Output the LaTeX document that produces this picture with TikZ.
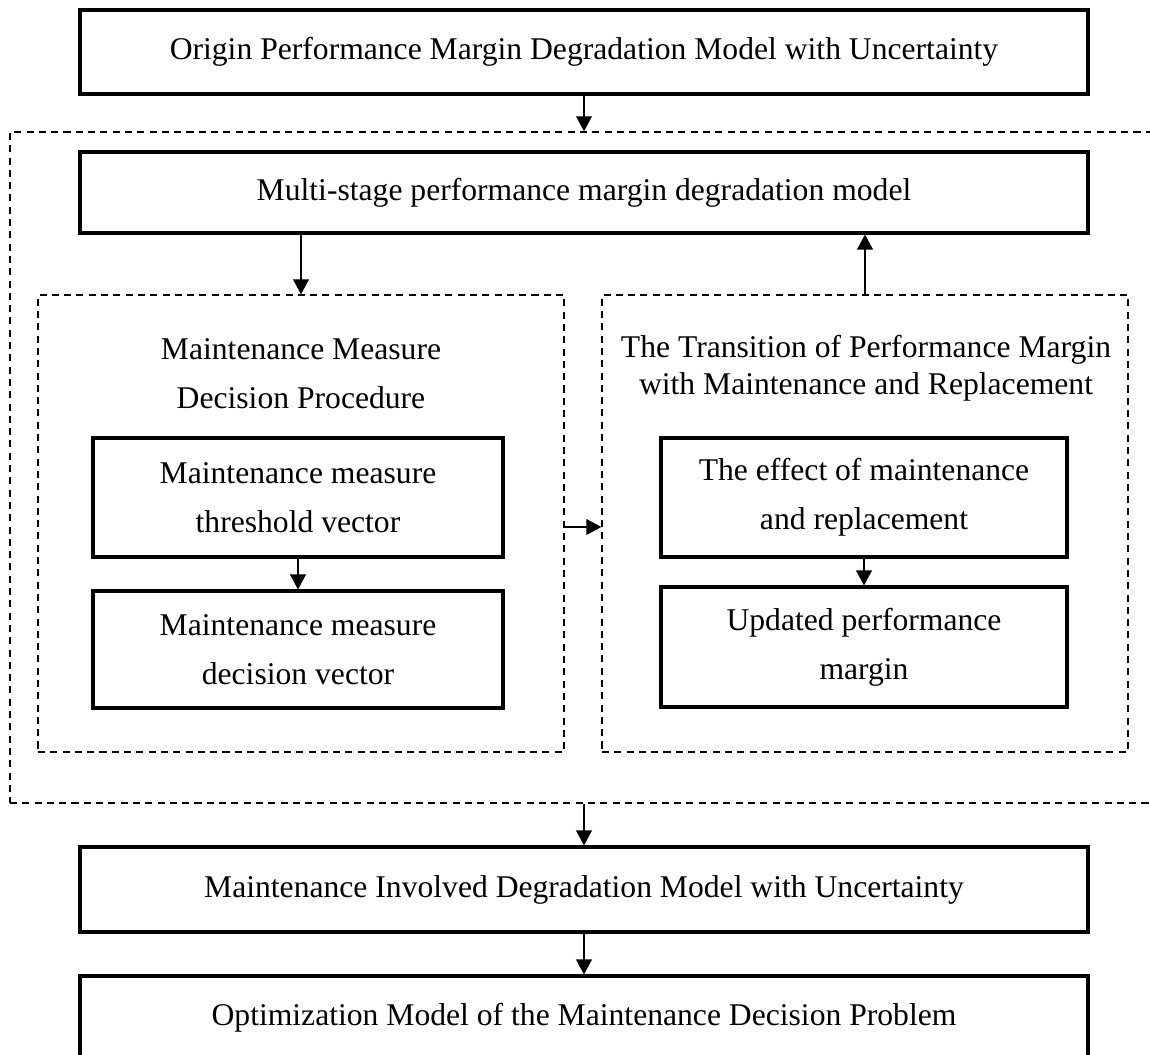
\documentclass[tikz,border=0pt]{standalone}
\usepackage{fontspec}
\setmainfont{Liberation Serif}
\usetikzlibrary{arrows.meta}
\tikzset{
  box/.style={draw,line width=1.8pt,inner sep=0pt,align=center,font=\fontsize{18}{27.8}\selectfont},
  panel/.style={draw,line width=0.8pt,dash pattern=on 4pt off 3pt,inner sep=0pt},
  arr/.style={line width=0.7pt,-{Triangle[width=9pt,length=8.5pt]}}
}
\begin{document}
\begin{tikzpicture}[x=0.02cm,y=-0.02cm]
\useasboundingbox (0,0) rectangle (1150,1055);
\node[box,minimum width=1008*0.02cm,minimum height=84*0.02cm] (origin) at (584,52) {Origin Performance Margin Degradation Model with Uncertainty};
\node[panel,minimum width=1146*0.02cm,minimum height=671*0.02cm] (frame) at (583,467.5) {};
\node[box,minimum width=1008*0.02cm,minimum height=81*0.02cm] (multi) at (584,192.5) {Multi-stage performance margin degradation model};
\node[panel,minimum width=526*0.02cm,minimum height=457*0.02cm] (leftpanel) at (301,523.5) {};
\node[panel,minimum width=526*0.02cm,minimum height=457*0.02cm] (rightpanel) at (865,523.5) {};
\node[align=center,font=\fontsize{18}{27.8}\selectfont] (lefttitle) at (301,374) {Maintenance Measure\\Decision Procedure};
\node[align=center,font=\fontsize{18}{21}\selectfont] (righttitle) at (866,368) {The Transition of Performance Margin\\with Maintenance and Replacement};
\node[box,minimum width=410*0.02cm,minimum height=119*0.02cm] (thr) at (298,497.5) {Maintenance measure\\threshold vector};
\node[box,minimum width=410*0.02cm,minimum height=117*0.02cm] (dec) at (298,649.5) {Maintenance measure\\decision vector};
\node[box,minimum width=406*0.02cm,minimum height=119*0.02cm] (eff) at (864,497.5) {The effect of maintenance\\and replacement};
\node[box,minimum width=406*0.02cm,minimum height=120*0.02cm] (upd) at (864,647) {Updated performance\\margin};
\node[box,minimum width=1008*0.02cm,minimum height=85*0.02cm] (involved) at (584,889.5) {Maintenance Involved Degradation Model with Uncertainty};
\node[box,minimum width=1008*0.02cm,minimum height=84*0.02cm] (optim) at (584,1018) {Optimization Model of the Maintenance Decision Problem};
\draw[arr] (origin) -- (origin |- frame.north);
\draw[arr] (leftpanel.north |- multi.south) -- (leftpanel.north);
\draw[arr] (rightpanel.north) -- (rightpanel.north |- multi.south);
\draw[arr] ([yshift=-0.07cm]leftpanel.east) -- ([yshift=-0.07cm]rightpanel.west);
\draw[arr] (thr) -- (dec);
\draw[arr] (eff) -- (upd);
\draw[arr] (involved.north |- frame.south) -- (involved.north);
\draw[arr] (involved) -- (optim);
\end{tikzpicture}
\end{document}
